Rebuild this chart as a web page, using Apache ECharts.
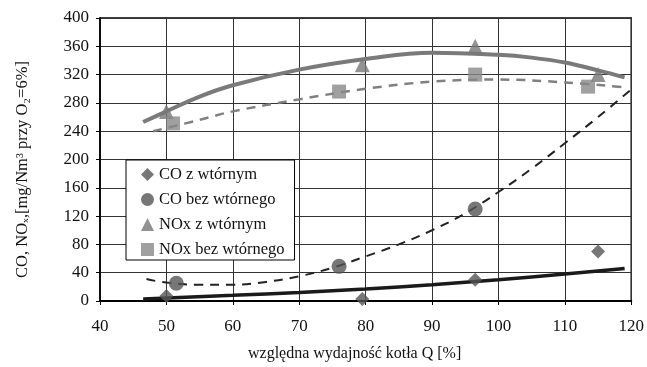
<!DOCTYPE html>
<html>
<head>
<meta charset="utf-8">
<script src="https://cdn.jsdelivr.net/npm/echarts@6/dist/echarts.min.js"></script>
<style>
html,body{margin:0;padding:0;background:#fff;}
#chart{width:647px;height:367px;}
</style>
</head>
<body>
<div id="chart"></div>
<script>
// measured points
var coZ = [[50, 7], [79.5, 3], [96.5, 30], [115, 70]];
var coBez = [[51.5, 25], [76, 49], [96.5, 130]];
var noxZ = [[50, 268], [79.5, 334], [96.5, 360], [115, 320]];
var noxBez = [[51, 251], [76, 296], [96.5, 320], [113.5, 303]];

// trend lines
var coZTrend = [[46.5, 3], [60, 8], [70, 12], [80, 17], [90, 23], [100, 30], [110, 38], [119, 46]];
var coBezTrend = [[47, 31], [50, 26], [55, 23], [60, 23], [65, 27], [70, 35], [75, 47], [80, 63], [85, 80], [90, 100], [95, 124], [100, 154], [105, 187], [110, 223], [115, 260], [120, 299]];
var noxZTrend = [[46.5, 253], [50, 268], [55, 289], [60, 305], [70, 327], [80, 342], [90, 351], [100, 348], [105, 344], [110, 337], [115, 326], [119, 316]];
var noxBezTrend = [[48, 240], [55, 256], [60, 268], [70, 285], [80, 300], [90, 310], [100, 313], [110, 309], [119, 302]];

var xTicks = [40, 120, 10];
var yTicks = [0, 400, 40];
var names = ['CO z wtórnym', 'CO bez wtórnego', 'NOx z wtórnym', 'NOx bez wtórnego'];

var font = '"Liberation Serif", "Times New Roman", serif';
var myChart = echarts.init(document.getElementById('chart'));

var option = {
  animation: false,
  backgroundColor: '#fff',
  grid: {
    left: 100, right: 15, top: 18, bottom: 64,
    show: true, borderColor: '#000', borderWidth: 1.5
  },
  legend: {
    orient: 'vertical',
    left: 126, top: 160,
    backgroundColor: '#fff',
    borderColor: '#000',
    borderWidth: 1,
    padding: [6, 10, 2, 15],
    itemGap: 8,
    itemWidth: 13, itemHeight: 13,
    textStyle: { fontFamily: font, fontSize: 16.5, color: '#111' },
    data: names
  },
  xAxis: {
    type: 'value',
    min: xTicks[0], max: xTicks[1], interval: xTicks[2],
    name: 'względna wydajność kotła Q [%]',
    nameLocation: 'middle',
    nameGap: 45,
    nameTextStyle: { fontFamily: font, fontSize: 16, color: '#111', padding: [0, 22, 0, 0] },
    axisLine: { show: true, onZero: false, lineStyle: { color: '#000', width: 2 } },
    axisTick: { show: true, length: 4, lineStyle: { color: '#000' } },
    axisLabel: { fontFamily: font, fontSize: 17, color: '#111', margin: 17 },
    splitLine: { show: true, lineStyle: { color: '#333', width: 1 } }
  },
  yAxis: {
    type: 'value',
    min: yTicks[0], max: yTicks[1], interval: yTicks[2],
    name: 'CO, NOₓ,[mg/Nm³ przy O₂=6%]',
    nameLocation: 'middle',
    nameGap: 69,
    nameTextStyle: { fontFamily: font, fontSize: 16.5, color: '#111', padding: [0, 20, 0, 0] },
    axisLine: { show: true, lineStyle: { color: '#000', width: 1.5 } },
    axisTick: { show: true, length: 4, lineStyle: { color: '#000' } },
    axisLabel: { fontFamily: font, fontSize: 17, color: '#111', margin: 11 },
    splitLine: { show: true, lineStyle: { color: '#333', width: 1 } }
  },
  series: [
    {
      type: 'line', data: noxZTrend, smooth: 0.4, symbol: 'none', silent: true,
      lineStyle: { color: '#7a7a7a', width: 4 }, z: 2
    },
    {
      type: 'line', data: noxBezTrend, smooth: 0.4, symbol: 'none', silent: true,
      lineStyle: { color: '#808080', width: 2.5, type: [9, 7] }, z: 2
    },
    {
      type: 'line', data: coBezTrend, smooth: 0.4, symbol: 'none', silent: true,
      lineStyle: { color: '#222', width: 2, type: [9, 7] }, z: 2
    },
    {
      type: 'line', data: coZTrend, smooth: 0.4, symbol: 'none', silent: true,
      lineStyle: { color: '#1a1a1a', width: 3.5 }, z: 2
    },
    {
      name: names[0], type: 'scatter', data: coZ, symbol: 'diamond', symbolSize: 14,
      itemStyle: { color: '#555' }, z: 5
    },
    {
      name: names[1], type: 'scatter', data: coBez, symbol: 'circle', symbolSize: 15,
      itemStyle: { color: '#555' }, z: 5
    },
    {
      name: names[2], type: 'scatter', data: noxZ, symbol: 'triangle', symbolSize: 15,
      itemStyle: { color: '#777' }, z: 5
    },
    {
      name: names[3], type: 'scatter', data: noxBez, symbol: 'rect', symbolSize: 14,
      itemStyle: { color: '#888' }, z: 5
    }
  ]
};

myChart.setOption(option);
</script>
</body>
</html>
